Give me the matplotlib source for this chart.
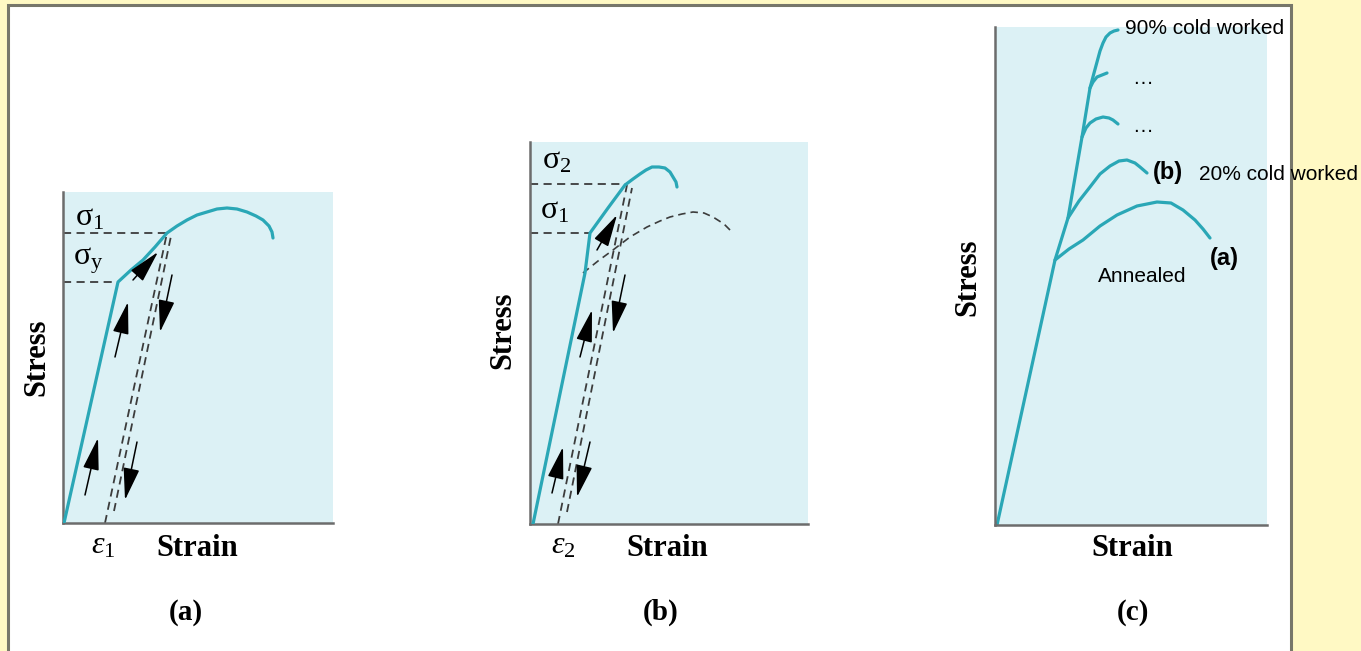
import numpy as np
import matplotlib
matplotlib.use('Agg')
import matplotlib.pyplot as plt
from matplotlib.patches import Rectangle

plt.rcParams['mathtext.fontset'] = 'custom'
plt.rcParams['mathtext.rm'] = 'Liberation Serif'
plt.rcParams['mathtext.it'] = 'Liberation Serif:italic'

# ---- panel (a): load past yield, unload, reload ----
a_strain = [1, 55, 68, 80, 92, 104, 114, 124, 134, 144, 154, 164, 174, 184, 193, 200, 206, 209, 210]
a_stress = [0, 241, 253, 263, 276, 290, 297, 303, 308, 311, 314, 315, 314, 311, 307, 303, 297, 291, 285]
a_sig1, a_sigy = 290, 241
a_unload = ([42, 104], [0, 290])
a_reload = ([51, 108], [12, 287])
a_arrows = [((22, 28), (35, 85)), ((52, 166), (65, 221)), ((70, 243), (95, 271)),
            ((109, 248), (97, 191)), ((74, 81), (62, 23))]

# ---- panel (b): reload of the cold worked piece ----
b_strain = [3, 55, 60, 78, 95, 103, 110, 116, 122, 129, 135, 140, 143, 146, 147]
b_stress = [0, 251, 291, 316, 339, 345, 350, 354, 357, 357, 356, 352, 347, 342, 337]
b_old_strain = [53, 68, 83, 100, 117, 130, 140, 152, 163, 174, 183, 194, 203]
b_old_stress = [251, 263, 274, 287, 297, 303, 307, 310, 312, 311, 307, 300, 291]
b_sig2, b_sig1 = 340, 291
b_unload = ([28, 97], [0, 339])
b_reload = ([37, 102], [12, 336])
b_arrows = [((22, 31), (33, 77)), ((50, 167), (62, 214)), ((67, 274), (87, 309)),
            ((95, 249), (83, 191)), ((60, 82), (47, 27))]

# ---- panel (c): family of curves ----
c_main_strain = [2, 60, 73, 87, 95, 99, 102, 105, 108, 111, 115, 119, 123]
c_main_stress = [0, 265, 307, 388, 437, 452, 463, 474, 482, 488, 492, 494, 495]
c_ann_strain = [60, 74, 88, 105, 122, 142, 162, 176, 188, 200, 208, 215]
c_ann_stress = [265, 276, 285, 299, 310, 319, 323, 322, 315, 305, 296, 287]
c_20_strain = [73, 84, 95, 105, 115, 124, 132, 140, 145, 152]
c_20_stress = [307, 324, 338, 351, 359, 364, 365, 362, 358, 352]
c_3_strain = [87, 91, 95, 101, 108, 114, 118, 123]
c_3_stress = [388, 397, 402, 406, 408, 407, 405, 401]
c_4_strain = [95, 98, 102, 107, 112]
c_4_stress = [437, 443, 448, 450, 452]

W, H = 1361, 651
TEAL = '#2aa7b6'
SHADE = '#dcf1f5'
AXC = '#6c6c6c'
DASH = '#3c3c3c'

fig = plt.figure(figsize=(W / 100, H / 100), dpi=100)
fig.patch.set_facecolor('#fff9c4')

# white card with border
fig.add_artist(Rectangle((8 / W, -0.05), (1291 - 8) / W, 1.05 - 5 / H,
                         transform=fig.transFigure, facecolor='white',
                         edgecolor='#77776a', lw=2.2, zorder=0))


def panel(x0, y0, x1, y1):
    ax = fig.add_axes([x0 / W, 1 - y1 / H, (x1 - x0) / W, (y1 - y0) / H])
    ax.set_xlim(0, x1 - x0)
    ax.set_ylim(0, y1 - y0)
    ax.set_facecolor(SHADE)
    for s in ['top', 'right']:
        ax.spines[s].set_visible(False)
    for s in ['left', 'bottom']:
        ax.spines[s].set_color(AXC)
        ax.spines[s].set_linewidth(1.8)
    ax.set_xticks([])
    ax.set_yticks([])
    return ax


def dashed(ax, xs, ys, lw=1.3):
    ax.plot(xs, ys, color=DASH, lw=lw, dashes=(4.5, 3))


def arrows(ax, lst):
    for p0, p1 in lst:
        ax.annotate('', xy=p1, xytext=p0,
                    arrowprops=dict(arrowstyle='-|>,head_length=1.0,head_width=0.25',
                                    color='k', lw=1.1,
                                    mutation_scale=20, shrinkA=0, shrinkB=0))


def serif(ax, x, y, s, size=22, rot=0):
    ax.text(x, y, s, ha='center', va='center', fontsize=size, rotation=rot,
            family='Liberation Serif', fontweight='bold', clip_on=False)


def math(ax, x, y, s, size=23):
    ax.text(x, y, s, ha='center', va='center', fontsize=size, clip_on=False)


# (a)
ax = panel(63, 192, 333, 523)
ax.plot(a_strain, a_stress, color=TEAL, lw=2.3, solid_capstyle='round', zorder=3)
dashed(ax, [0, a_strain[5]], [a_sig1, a_sig1])
dashed(ax, [0, a_strain[1]], [a_sigy, a_sigy])
dashed(ax, *a_unload)
dashed(ax, *a_reload)
arrows(ax, a_arrows)
math(ax, 27, 306, r'$\mathrm{\sigma_1}$')
math(ax, 25, 263, r'$\mathrm{\sigma_y}$')
math(ax, 40, -22, r'$\varepsilon_\mathrm{1}$')
serif(ax, 134, -26, 'Strain')
serif(ax, -26, 166, 'Stress', rot=90)

# (b)
ax = panel(530, 142, 808, 524)
ax.plot(b_strain, b_stress, color=TEAL, lw=2.3, solid_capstyle='round', zorder=3)
dashed(ax, b_old_strain, b_old_stress, lw=1.2)
dashed(ax, [0, b_strain[4]], [b_sig2, b_sig2])
dashed(ax, [0, b_strain[2]], [b_sig1, b_sig1])
dashed(ax, *b_unload)
dashed(ax, *b_reload)
arrows(ax, b_arrows)
math(ax, 27, 364, r'$\mathrm{\sigma_2}$')
math(ax, 25, 314, r'$\mathrm{\sigma_1}$')
math(ax, 33, -21, r'$\varepsilon_\mathrm{2}$')
serif(ax, 137, -25, 'Strain')
serif(ax, -27, 194, 'Stress', rot=90)

# (c)
ax = panel(995, 27, 1267, 525)
for xs, ys in [(c_main_strain, c_main_stress), (c_ann_strain, c_ann_stress),
               (c_20_strain, c_20_stress), (c_3_strain, c_3_stress),
               (c_4_strain, c_4_stress)]:
    ax.plot(xs, ys, color=TEAL, lw=2.3, solid_capstyle='round')
serif(ax, 137, -24, 'Strain')
serif(ax, -27, 248, 'Stress', rot=90)
sans = dict(family='Liberation Sans', fontsize=15, va='center', ha='left', clip_on=False)
ax.text(130, 496, '90% cold worked', **sans)
ax.text(137, 447, '\u2026', **sans)
ax.text(137, 398, '\u2026', **sans)
ax.text(158, 352, '(b)', **dict(sans, fontsize=17, fontweight='bold'))
ax.text(204, 350, '20% cold worked', **sans)
ax.text(215, 267, '(a)', **dict(sans, fontsize=17, fontweight='bold'))
ax.text(103, 248, 'Annealed', **sans)

for x, s in [(186, '(a)'), (661, '(b)'), (1133, '(c)')]:
    fig.text(x / W, 1 - 612 / H, s, ha='center', va='center', fontsize=21,
             family='Liberation Serif', fontweight='bold')

fig.savefig('out.png', dpi=100, facecolor=fig.get_facecolor())
